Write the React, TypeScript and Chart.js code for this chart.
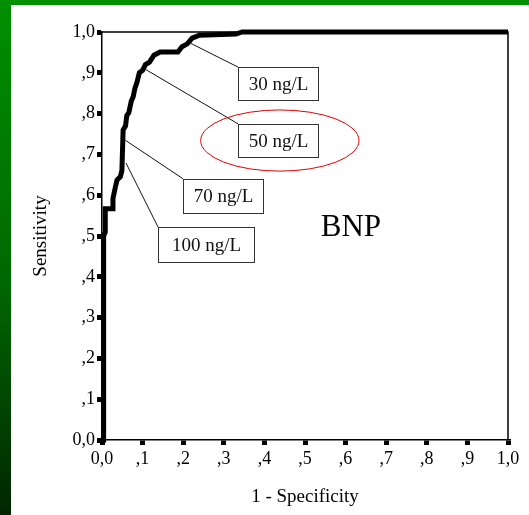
import React, { useEffect, useRef } from "react";
import { Chart, registerables } from "chart.js";

Chart.register(...registerables);

// ROC curve for BNP (1 - specificity, sensitivity)
const fprValues = [
  0, 0.004, 0.004, 0.008, 0.008, 0.025, 0.027, 0.033, 0.037, 0.045, 0.049, 0.052,
  0.058, 0.061, 0.066, 0.072, 0.077, 0.081, 0.086, 0.092, 0.1, 0.107, 0.117,
  0.128, 0.143, 0.187, 0.197, 0.21, 0.222, 0.24, 0.33, 0.345, 1.0,
];
const tprValues = [
  0, 0, 0.5, 0.51, 0.567, 0.567, 0.592, 0.62, 0.637, 0.645, 0.66, 0.76,
  0.77, 0.795, 0.802, 0.83, 0.842, 0.862, 0.876, 0.9, 0.906, 0.92, 0.926,
  0.943, 0.951, 0.951, 0.964, 0.971, 0.985, 0.992, 0.995, 1.0, 1.0,
];

const xTickLabels = ["0,0", ",1", ",2", ",3", ",4", ",5", ",6", ",7", ",8", ",9", "1,0"];
const yTickLabels = ["0,0", ",1", ",2", ",3", ",4", ",5", ",6", ",7", ",8", ",9", "1,0"];

// cut-off annotations
const cutoffLabels = ["30 ng/L", "50 ng/L", "70 ng/L", "100 ng/L"];
const cutoffFpr = [0.217, 0.106, 0.057, 0.059];
const cutoffTpr = [0.973, 0.909, 0.735, 0.679];

const annotationBoxes = [
  { x0: 0.335, x1: 0.532, y0: 0.914, y1: 0.833 },
  { x0: 0.335, x1: 0.532, y0: 0.775, y1: 0.694 },
  { x0: 0.2, x1: 0.397, y0: 0.64, y1: 0.556 },
  { x0: 0.138, x1: 0.374, y0: 0.522, y1: 0.436 },
];
const highlight = { cx: 0.438, cy: 0.734, rx: 0.195, ry: 0.075 };
const titleText = { text: "BNP", x: 0.613, y: 0.5 };

const SERIF = '"Liberation Serif", "Times New Roman", serif';

const annotationPlugin = {
  id: "rocAnnotations",
  afterDatasetsDraw(chart: any) {
    const { ctx, chartArea, scales } = chart;
    const xs = scales.x;
    const ys = scales.y;
    ctx.save();
    // top and right frame
    ctx.strokeStyle = "#000";
    ctx.lineWidth = 1.5;
    ctx.beginPath();
    ctx.moveTo(chartArea.left, chartArea.top);
    ctx.lineTo(chartArea.right, chartArea.top);
    ctx.lineTo(chartArea.right, chartArea.bottom);
    ctx.stroke();

    // leader lines
    ctx.lineWidth = 1;
    ctx.strokeStyle = "#111";
    cutoffLabels.forEach((_, i) => {
      const b = annotationBoxes[i];
      ctx.beginPath();
      ctx.moveTo(xs.getPixelForValue(cutoffFpr[i]), ys.getPixelForValue(cutoffTpr[i]));
      ctx.lineTo(xs.getPixelForValue(b.x0), ys.getPixelForValue(b.y0));
      ctx.stroke();
    });

    // boxes
    ctx.font = `19px ${SERIF}`;
    ctx.textAlign = "center";
    ctx.textBaseline = "middle";
    cutoffLabels.forEach((label, i) => {
      const b = annotationBoxes[i];
      const l = Math.round(xs.getPixelForValue(b.x0)) + 0.5;
      const r = Math.round(xs.getPixelForValue(b.x1)) + 0.5;
      const t = Math.round(ys.getPixelForValue(b.y0)) + 0.5;
      const bt = Math.round(ys.getPixelForValue(b.y1)) + 0.5;
      ctx.fillStyle = "#fff";
      ctx.fillRect(l, t, r - l, bt - t);
      ctx.strokeStyle = "#333";
      ctx.lineWidth = 1;
      ctx.strokeRect(l, t, r - l, bt - t);
      ctx.fillStyle = "#111";
      ctx.fillText(label, (l + r) / 2, (t + bt) / 2 + 1);
    });

    // red ellipse
    const cx = xs.getPixelForValue(highlight.cx);
    const cy = ys.getPixelForValue(highlight.cy);
    const rx = Math.abs(xs.getPixelForValue(highlight.cx + highlight.rx) - cx);
    const ry = Math.abs(ys.getPixelForValue(highlight.cy + highlight.ry) - cy);
    ctx.strokeStyle = "#e00000";
    ctx.lineWidth = 1;
    ctx.beginPath();
    ctx.ellipse(cx, cy, rx, ry, 0, 0, Math.PI * 2);
    ctx.stroke();

    // BNP label
    ctx.fillStyle = "#000";
    ctx.font = `31px ${SERIF}`;
    ctx.textAlign = "center";
    ctx.textBaseline = "alphabetic";
    ctx.fillText(titleText.text, xs.getPixelForValue(titleText.x), ys.getPixelForValue(titleText.y));
    ctx.restore();
  },
};

export default function App() {
  const canvasRef = useRef<HTMLCanvasElement | null>(null);

  useEffect(() => {
    if (!canvasRef.current) return;
    const points = fprValues.map((x, i) => ({ x, y: tprValues[i] }));
    const chart = new Chart(canvasRef.current, {
      type: "scatter",
      data: {
        datasets: [
          {
            data: points,
            showLine: true,
            borderColor: "#000",
            backgroundColor: "#000",
            borderWidth: 5,
            pointRadius: 0,
            borderJoinStyle: "miter",
            borderCapStyle: "butt",
            tension: 0,
            clip: false as any,
          },
        ],
      },
      options: {
        responsive: false,
        animation: false,
        devicePixelRatio: 1,
        layout: { padding: { left: 0, right: 21, top: 32, bottom: 0 } },
        plugins: {
          legend: { display: false },
          tooltip: { enabled: false },
        },
        scales: {
          x: {
            type: "linear",
            min: 0,
            max: 1,
            afterFit: (scale: any) => {
              scale.height = 75;
            },
            ticks: {
              stepSize: 0.1,
              color: "#000",
              padding: 5,
              font: { family: SERIF, size: 18, lineHeight: 1 },
              callback: (_v: any, i: number) => xTickLabels[i],
              maxRotation: 0,
              autoSkip: false,
            },
            grid: {
              drawOnChartArea: false,
              drawTicks: true,
              tickLength: 5,
              lineWidth: 5,
              color: "#000",
            },
            border: { display: true, color: "#000", width: 1.5 },
            title: {
              display: true,
              text: "1 - Specificity",
              color: "#000",
              font: { family: SERIF, size: 19 },
              padding: { top: 0, bottom: 7 },
            },
          },
          y: {
            type: "linear",
            min: 0,
            max: 1,
            afterFit: (scale: any) => {
              scale.width = 102;
            },
            ticks: {
              stepSize: 0.1,
              color: "#000",
              padding: 2,
              font: { family: SERIF, size: 18, lineHeight: 1 },
              callback: (_v: any, i: number) => yTickLabels[i],
              autoSkip: false,
            },
            grid: {
              drawOnChartArea: false,
              drawTicks: true,
              tickLength: 5,
              lineWidth: 5,
              color: "#000",
            },
            border: { display: true, color: "#000", width: 1.5 },
            title: {
              display: true,
              text: "Sensitivity",
              color: "#000",
              font: { family: SERIF, size: 19 },
              padding: { top: 30, bottom: 0 },
            },
          },
        },
      },
      plugins: [annotationPlugin],
    });
    return () => chart.destroy();
  }, []);

  return (
    <div
      style={{
        position: "fixed",
        left: 0,
        top: 0,
        width: 529,
        height: 515,
        background: "#fff",
        overflow: "hidden",
      }}
    >
      <canvas
        ref={canvasRef}
        width={529}
        height={515}
        style={{ position: "absolute", left: 0, top: 0, width: 529, height: 515 }}
      />
      <div
        style={{
          position: "absolute",
          left: 0,
          top: 0,
          width: 529,
          height: 5,
          background: "#009000",
        }}
      />
      <div
        style={{
          position: "absolute",
          left: 0,
          top: 0,
          width: 11,
          height: 515,
          background: "linear-gradient(#009000 0%, #006800 55%, #002600 100%)",
        }}
      />
    </div>
  );
}
